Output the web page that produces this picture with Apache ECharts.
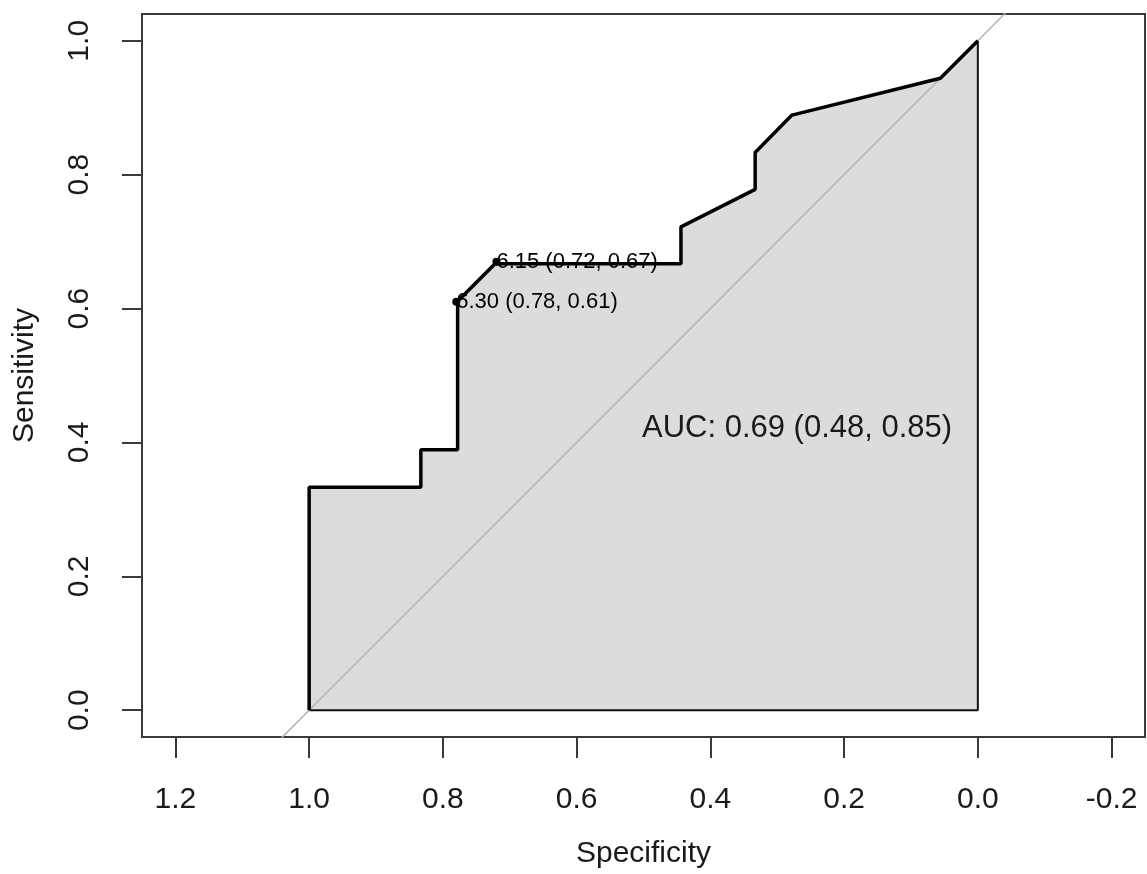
<!DOCTYPE html>
<html>
<head>
<meta charset="utf-8">
<script src="https://cdn.jsdelivr.net/npm/echarts@6/dist/echarts.min.js"></script>
<style>
  html, body { margin: 0; padding: 0; background: #fff; }
  #chart { width: 1147px; height: 874px; }
</style>
</head>
<body>
<div id="chart"></div>
<script>
// ROC curve points (specificity, sensitivity)
const specificity = [1.0, 1.0, 0.833, 0.833, 0.778, 0.778, 0.722, 0.444, 0.444, 0.333, 0.333, 0.278, 0.056, 0.0];
const sensitivity = [0.0, 0.333, 0.333, 0.389, 0.389, 0.611, 0.667, 0.667, 0.722, 0.778, 0.833, 0.889, 0.944, 1.0];

// best thresholds printed on the curve
const thresholds = [6.30, 6.15];
const thresSpec = [0.78, 0.72];
const thresSens = [0.61, 0.67];

// chance line ends (specificity), sensitivity = 1 - specificity
const diagSpec = [1.06, -0.06];

const xTicks = [1.2, 1.0, 0.8, 0.6, 0.4, 0.2, 0.0, -0.2];
const yTicks = [0.0, 0.2, 0.4, 0.6, 0.8, 1.0];

const aucText = 'AUC: 0.69 (0.48, 0.85)';

const font = 'Liberation Sans, Arial, Helvetica, sans-serif';
const axisColor = '#3a3a3a';
const textColor = '#1a1a1a';

const curve = specificity.map((s, i) => [s, sensitivity[i]]);
const diag = diagSpec.map(s => [s, 1 - s]);
const thresPoints = thresholds.map((t, i) => ({
  value: [thresSpec[i], thresSens[i]],
  name: t.toFixed(2) + ' (' + thresSpec[i].toFixed(2) + ', ' + thresSens[i].toFixed(2) + ')'
}));

const chart = echarts.init(document.getElementById('chart'));

chart.setOption({
  backgroundColor: '#fff',
  animation: false,
  grid: {
    left: 142,
    top: 14,
    width: 1003,
    height: 724,
    show: true,
    borderColor: axisColor,
    borderWidth: 2,
    backgroundColor: 'transparent'
  },
  xAxis: {
    type: 'value',
    inverse: true,
    min: -0.25,
    max: 1.25,
    name: 'Specificity',
    nameLocation: 'middle',
    nameGap: 117,
    nameTextStyle: { fontFamily: font, fontSize: 30, color: textColor, verticalAlign: 'middle' },
    axisLine: { show: false, onZero: false },
    splitLine: { show: false },
    axisTick: {
      show: true,
      length: 21,
      customValues: xTicks,
      lineStyle: { color: axisColor, width: 2 }
    },
    axisLabel: {
      customValues: xTicks,
      margin: 48,
      fontFamily: font,
      fontSize: 30,
      color: textColor,
      formatter: v => v.toFixed(1)
    }
  },
  yAxis: {
    type: 'value',
    min: -0.04,
    max: 1.04,
    name: 'Sensitivity',
    nameLocation: 'middle',
    nameGap: 117,
    nameTextStyle: { fontFamily: font, fontSize: 30, color: textColor, verticalAlign: 'middle' },
    axisLine: { show: false, onZero: false },
    splitLine: { show: false },
    axisTick: {
      show: true,
      length: 20,
      customValues: yTicks,
      lineStyle: { color: axisColor, width: 2 }
    },
    axisLabel: {
      customValues: yTicks,
      rotate: 90,
      margin: 62,
      align: 'center',
      verticalAlign: 'middle',
      fontFamily: font,
      fontSize: 30,
      color: textColor,
      formatter: v => v.toFixed(1)
    }
  },
  series: [
    {
      // AUC polygon fill
      type: 'line',
      data: curve,
      symbol: 'none',
      lineStyle: { width: 0 },
      areaStyle: { color: '#dcdcdc', opacity: 1 },
      z: 1
    },
    {
      // polygon border along bottom and right
      type: 'line',
      data: [[specificity[0], 0], [0, 0], [0, 1]],
      symbol: 'none',
      lineStyle: { color: '#111', width: 2 },
      z: 2
    },
    {
      // chance line
      type: 'line',
      data: diag,
      symbol: 'none',
      clip: true,
      lineStyle: { color: '#b4b4b4', width: 1.5 },
      z: 3
    },
    {
      // ROC curve
      type: 'line',
      data: curve,
      symbol: 'none',
      lineStyle: { color: '#000', width: 3.5 },
      z: 4
    },
    {
      type: 'scatter',
      data: thresPoints,
      symbol: 'circle',
      symbolSize: 8,
      itemStyle: { color: '#000', opacity: 1 },
      label: {
        show: true,
        position: [4, 4],
        align: 'left',
        verticalAlign: 'middle',
        formatter: p => p.name,
        fontFamily: font,
        fontSize: 22,
        color: '#000',
        opacity: 1
      },
      z: 5
    }
  ],
  graphic: [
    {
      type: 'text',
      left: 642,
      top: 413,
      z: 100,
      style: { text: aucText, fontFamily: font, fontSize: 31, fill: textColor }
    }
  ]
});
</script>
</body>
</html>
